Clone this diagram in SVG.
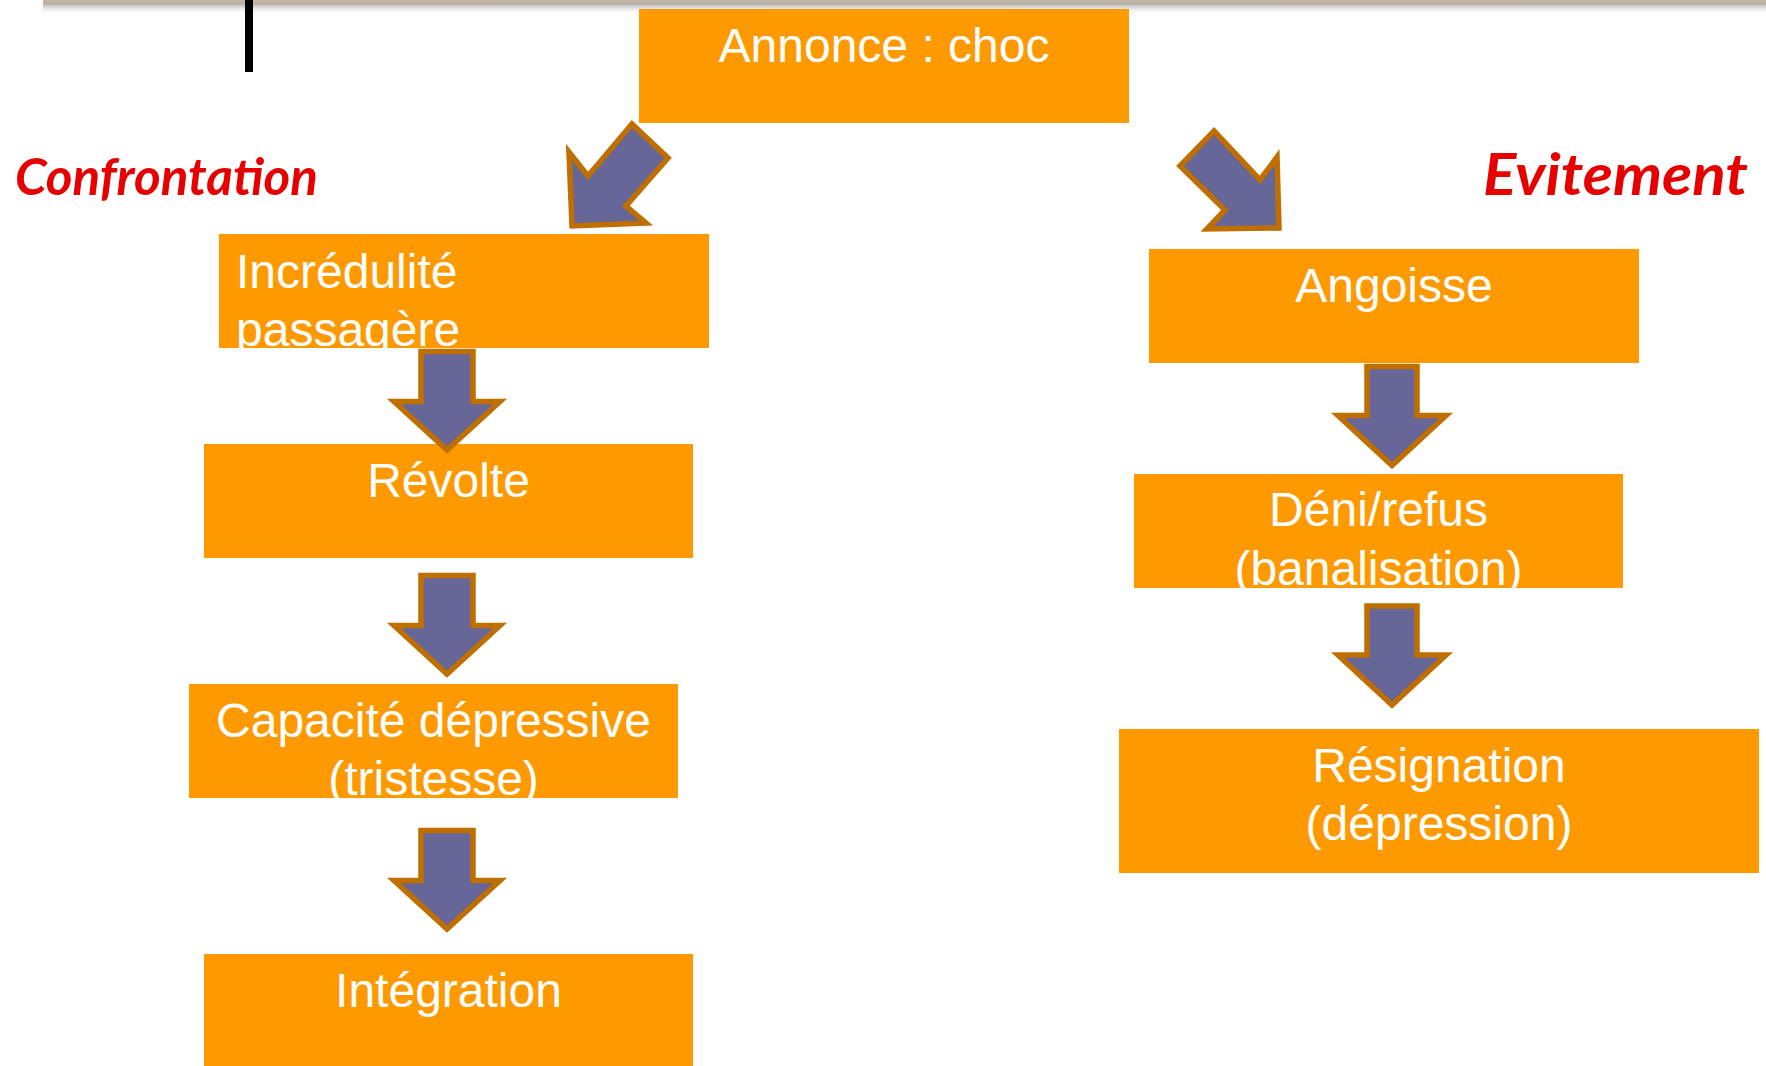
<svg xmlns="http://www.w3.org/2000/svg" width="1766" height="1066" viewBox="0 0 1766 1066">
<defs>
<linearGradient id="shadow" x1="0" y1="0" x2="0" y2="1">
<stop offset="0" stop-color="#9a9590" stop-opacity="0.85"/>
<stop offset="1" stop-color="#ffffff" stop-opacity="0"/>
</linearGradient>
<style>
.box{fill:#FF9900;}
.t{font-family:"Liberation Sans",Arial,sans-serif;font-size:48px;fill:#ffffff;}
.c{text-anchor:middle;}
.lbl{font-family:Lato,"Open Sans","Liberation Sans",sans-serif;font-weight:bold;font-style:italic;fill:#E60000;}
.arr{fill:#666699;stroke:#BF6F00;stroke-width:5.5;stroke-linejoin:miter;}
</style>
</defs>
<rect width="1766" height="1066" fill="#ffffff"/>
<rect x="43" y="3" width="1723" height="12" fill="url(#shadow)"/>
<rect x="43" y="0" width="1723" height="3" fill="#c4b4a6"/>
<rect x="245" y="0" width="8" height="72" fill="#000000"/>
<text class="lbl" x="15" y="195" font-size="51" textLength="303" lengthAdjust="spacingAndGlyphs">Confrontation</text>
<text class="lbl" x="1483" y="195" font-size="58" textLength="265" lengthAdjust="spacingAndGlyphs">Evitement</text>
<g id="annonce"><rect class="box" x="639" y="9" width="490" height="114"/><text class="t c" x="884" y="62">Annonce : choc</text></g>
<g id="incredulite"><rect class="box" x="219" y="234" width="490" height="114"/><text class="t" x="236" y="288">Incrédulité</text><text class="t" x="236" y="346">passagère</text></g>
<g id="revolte"><rect class="box" x="204" y="444" width="489" height="114"/><text class="t c" x="448.5" y="497">Révolte</text></g>
<g id="capacite"><rect class="box" x="189" y="684" width="489" height="114"/><text class="t c" x="433.5" y="737">Capacité dépressive</text><text class="t c" x="433.5" y="795">(tristesse)</text></g>
<g id="integration"><rect class="box" x="204" y="954" width="489" height="112"/><text class="t c" x="448.5" y="1007">Intégration</text></g>
<g id="angoisse"><rect class="box" x="1149" y="249" width="490" height="114"/><text class="t c" x="1394" y="302">Angoisse</text></g>
<g id="deni"><rect class="box" x="1134" y="474" width="489" height="114"/><text class="t c" x="1378.5" y="526">Déni/refus</text><text class="t c" x="1378.5" y="585">(banalisation)</text></g>
<g id="resignation"><rect class="box" x="1119" y="729" width="640" height="144"/><text class="t c" x="1439" y="782">Résignation</text><text class="t c" x="1439" y="840">(dépression)</text></g>
<g id="connectors">
<path class="arr" d="M572,226 L569,152 L588,176 L632,124 L668,158 L626,206 L646,223 Z"/>
<path class="arr" d="M1214,131 L1260,180 L1277,157 L1279,228 L1207,229 L1225,210 L1180,166 Z"/>
<path class="arr" d="M421,351.5 H473 V401.5 H500 L447,450 L394,401.5 H421 Z"/>
<path class="arr" d="M421,575.5 H473 V625.5 H500 L447,674 L394,625.5 H421 Z"/>
<path class="arr" d="M421,830.5 H473 V880.5 H500 L447,929 L394,880.5 H421 Z"/>
<path class="arr" d="M1367,366.5 H1417 V415.5 H1446 L1392,465.5 L1338,415.5 H1367 Z"/>
<path class="arr" d="M1367,606 H1417 V655 H1446 L1392,705 L1338,655 H1367 Z"/>
</g>
</svg>
